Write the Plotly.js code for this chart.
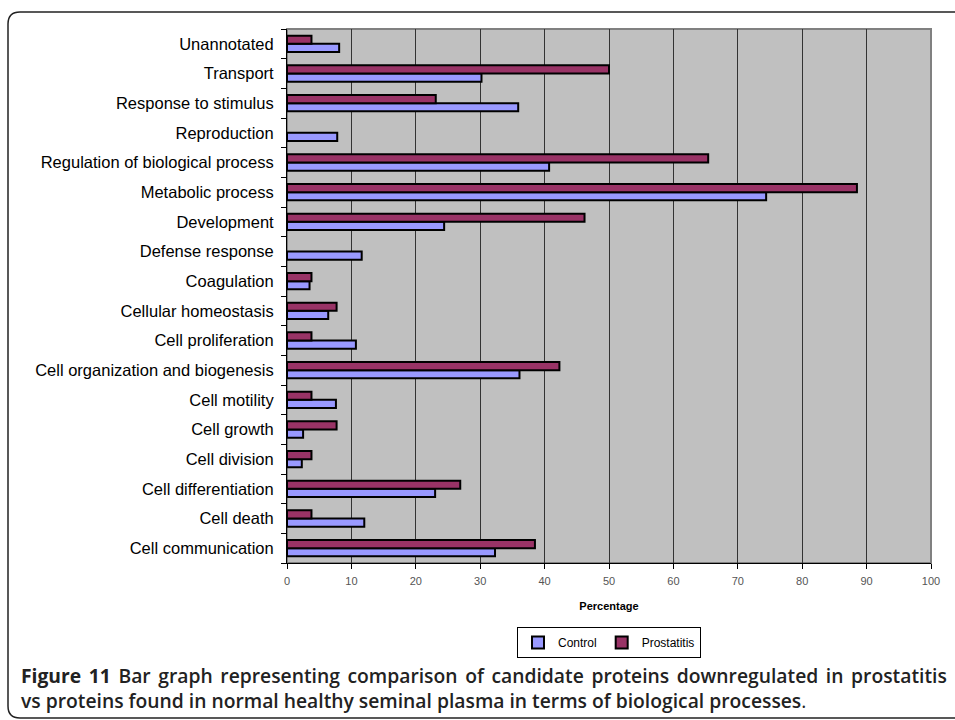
<!DOCTYPE html>
<html>
<head>
<meta charset="utf-8">
<script src="https://cdn.plot.ly/plotly-3.0.1.min.js"></script>
<style>html,body{margin:0;padding:0;background:#fff;}#chart{width:955px;height:720px;}</style>
</head>
<body>
<div id="chart"></div>
<script>
// Data (bottom to top as drawn)
var categories = [
  "Cell communication", "Cell death", "Cell differentiation", "Cell division",
  "Cell growth", "Cell motility", "Cell organization and biogenesis",
  "Cell proliferation", "Cellular homeostasis", "Coagulation",
  "Defense response", "Development", "Metabolic process",
  "Regulation of biological process", "Reproduction", "Response to stimulus",
  "Transport", "Unannotated"
];
var controlValues = [32.3, 12.0, 23.0, 2.3, 2.5, 7.6, 36.1, 10.7, 6.4, 3.5, 11.6, 24.4, 74.4, 40.7, 7.8, 35.9, 30.2, 8.1];
var prostatitisValues = [38.5, 3.8, 26.9, 3.8, 7.7, 3.8, 42.3, 3.8, 7.7, 3.8, 0, 46.2, 88.5, 65.4, 0, 23.1, 50.0, 3.8];
var xTicks = [0, 10, 20, 30, 40, 50, 60, 70, 80, 90, 100];

var W = 955, H = 720;
var M = {l: 287, r: 24, t: 29, b: 157};
var PW = W - M.l - M.r, PH = H - M.t - M.b;
function px(x) { return (x - M.l) / PW; }
function py(y) { return (H - M.b - y) / PH; }
function outline(vals) { return vals.map(function (v) { return v > 0 ? 2 : 0; }); }

var traces = [
  {type: "bar", orientation: "h", name: "Control", y: categories, x: controlValues,
   marker: {color: "#9999FF", line: {color: "#000000", width: outline(controlValues)}}},
  {type: "bar", orientation: "h", name: "Prostatitis", y: categories, x: prostatitisValues,
   marker: {color: "#993366", line: {color: "#000000", width: outline(prostatitisValues)}}}
];

// rounded frame path (paper coords)
var fl = 8, ft = 12, fr = 975, fb = 718, rr = 12;
var framePath = "M " + px(fl) + " " + py(ft + rr) +
  " Q " + px(fl) + " " + py(ft) + " " + px(fl + rr) + " " + py(ft) +
  " L " + px(fr) + " " + py(ft) +
  " L " + px(fr) + " " + py(fb) +
  " L " + px(fl + rr) + " " + py(fb) +
  " Q " + px(fl) + " " + py(fb) + " " + px(fl) + " " + py(fb - rr) + " Z";

var captionText =
  "<span style=\"word-spacing:2.6px\"><b>Figure 11</b> Bar graph representing comparison of candidate proteins downregulated in prostatitis</span>" +
  "<br>vs proteins found in normal healthy seminal plasma in terms of biological processes<span style=\"font-weight:normal\">.</span>";

var layout = {
  width: W, height: H,
  margin: M,
  paper_bgcolor: "#ffffff",
  plot_bgcolor: "#C0C0C0",
  barmode: "group",
  bargap: 0.45,
  bargroupgap: 0,
  showlegend: true,
  font: {family: "Liberation Sans, Arial, sans-serif", color: "#000"},
  xaxis: {
    range: [0, 100], tickvals: xTicks, ticktext: xTicks.map(String),
    showgrid: true, gridcolor: "#333333", gridwidth: 1,
    zeroline: false, showline: true, linecolor: "#000", linewidth: 1,
    ticks: "outside", ticklen: 5, tickcolor: "#000",
    ticklabelstandoff: 3,
    tickfont: {size: 11, color: "#555", family: "Liberation Sans, Arial, sans-serif"},
    title: {text: "<b>Percentage</b>", font: {size: 11, color: "#000"}, standoff: 16},
    fixedrange: true
  },
  yaxis: {
    type: "category", categoryorder: "array", categoryarray: categories,
    range: [-0.5, 17.5],
    showgrid: false, zeroline: false, showline: true, linecolor: "#000", linewidth: 1,
    ticks: "outside", ticklen: 5, tickcolor: "#000", tickson: "boundaries",
    ticklabelstandoff: 9,
    tickfont: {size: 16.5, color: "#000", family: "Liberation Sans, Arial, sans-serif"},
    fixedrange: true
  },
  legend: {
    orientation: "h", x: 0.5, xanchor: "center", y: py(627), yanchor: "top",
    bordercolor: "#000", borderwidth: 1, bgcolor: "#fff",
    font: {size: 12, family: "Liberation Sans, Arial, sans-serif", color: "#000"},
    itemwidth: 30, tracegroupgap: 0,
    traceorder: "normal", itemclick: false
  },
  shapes: [
    {type: "rect", xref: "paper", yref: "paper", x0: 0, x1: 1, y0: 0, y1: 1,
     line: {color: "#808080", width: 2}, layer: "below"},
    {type: "path", xref: "paper", yref: "paper", path: framePath,
     line: {color: "#222", width: 1.5}, layer: "below"}
  ],
  annotations: [
    {xref: "paper", yref: "paper", x: px(19), y: py(688), xanchor: "left", yanchor: "middle",
     showarrow: false, align: "left",
     text: captionText,
     font: {family: "Open Sans, sans-serif", size: 19.3, color: "#222", weight: 600}}
  ]
};

Plotly.newPlot("chart", traces, layout, {displayModeBar: false, staticPlot: true});
</script>
</body>
</html>
